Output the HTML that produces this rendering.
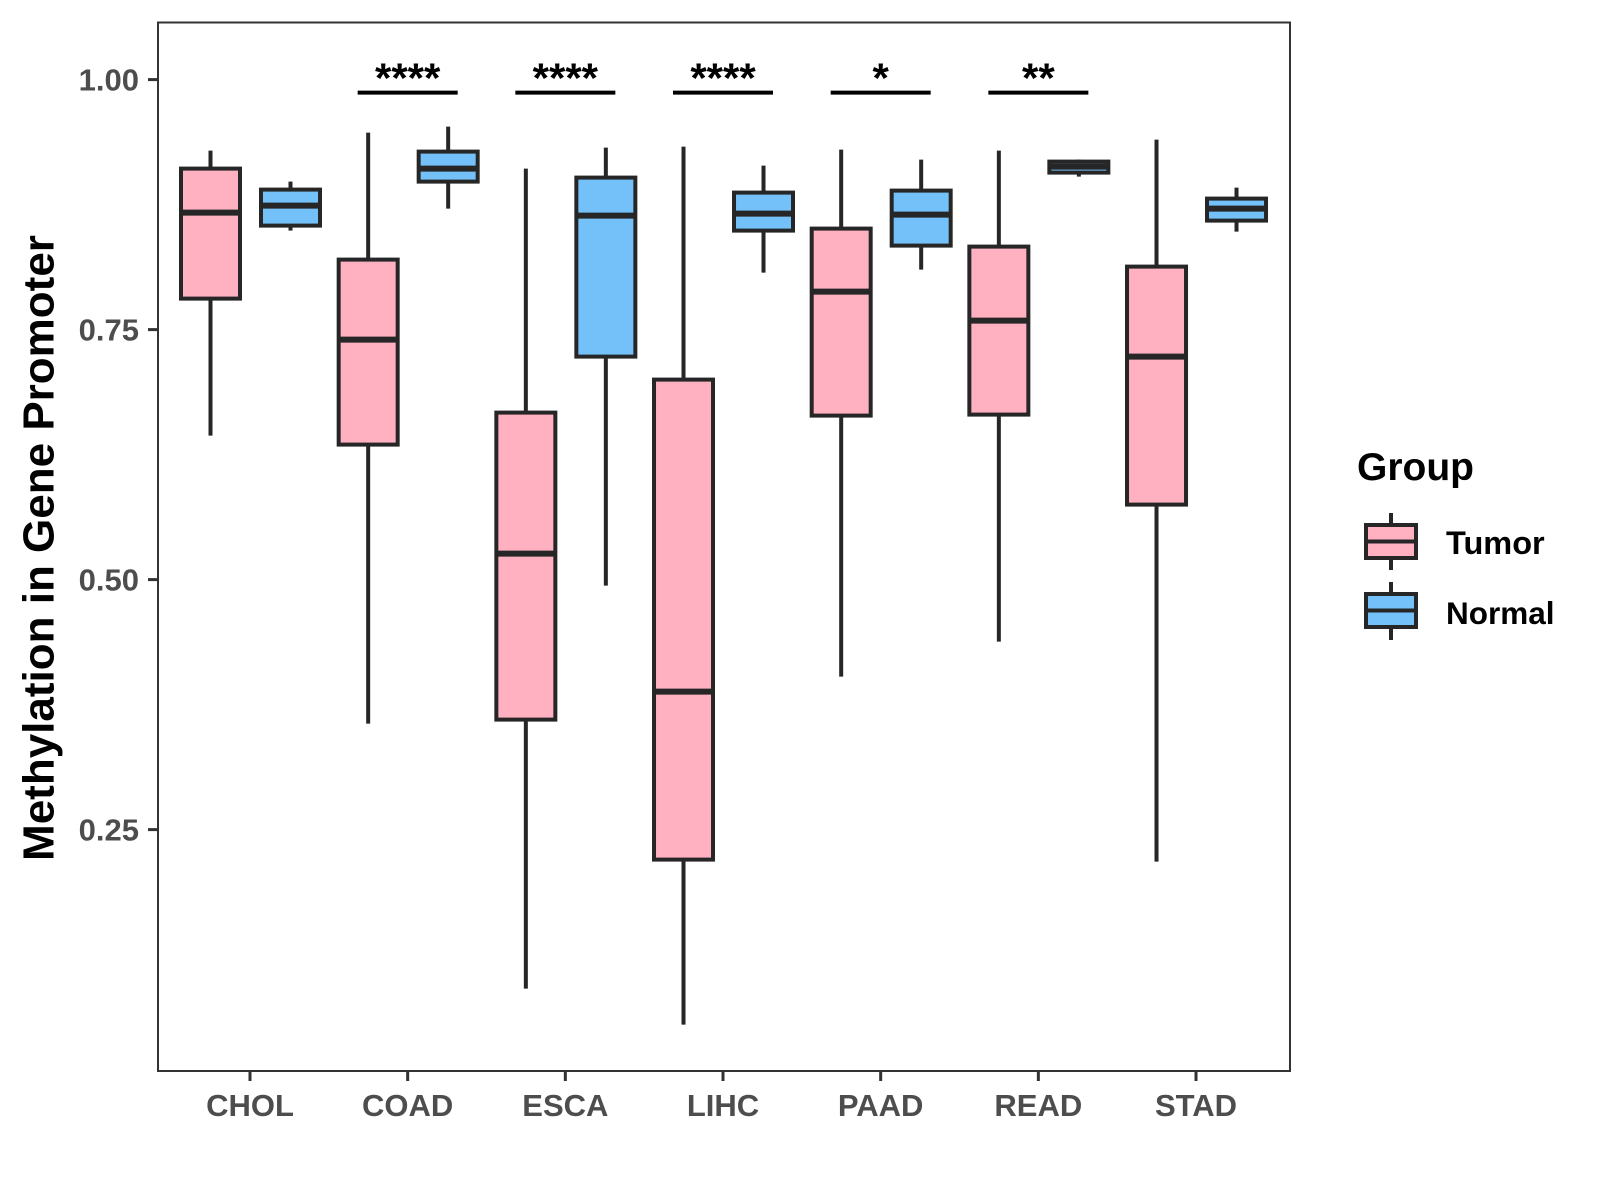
<!DOCTYPE html>
<html><head><meta charset="utf-8"><style>
html,body{margin:0;padding:0;background:#fff;}
svg{display:block;font-family:"Liberation Sans",Arial,sans-serif;}
</style></head><body>
<svg id="chart" width="1600" height="1200" viewBox="0 0 1600 1200">
<rect x="0" y="0" width="1600" height="1200" fill="#fff"/>
<g id="marks"></g>
<rect x="158" y="22.5" width="1132" height="1048.5" fill="none" stroke="#333" stroke-width="2"/>
<g id="axes"></g>
<text x="39" y="548" transform="rotate(-90 39 548)" text-anchor="middle" dominant-baseline="central" font-size="44" font-weight="bold" fill="#000">Methylation in Gene Promoter</text>
<g>
<text x="1357" y="480" font-size="39" font-weight="bold" fill="#000">Group</text>
<g>
<line x1="1391" y1="513" x2="1391" y2="570" stroke="#262626" stroke-width="4"/>
<rect x="1366" y="525" width="50" height="33" fill="#ffb0c1" stroke="#262626" stroke-width="4"/>
<line x1="1366" y1="541.5" x2="1416" y2="541.5" stroke="#262626" stroke-width="4"/>
<text x="1446" y="554" font-size="32.5" font-weight="bold" fill="#000">Tumor</text>
</g>
<g>
<line x1="1391" y1="582" x2="1391" y2="640" stroke="#262626" stroke-width="4"/>
<rect x="1366" y="594" width="50" height="33" fill="#74c1f9" stroke="#262626" stroke-width="4"/>
<line x1="1366" y1="610.5" x2="1416" y2="610.5" stroke="#262626" stroke-width="4"/>
<text x="1446" y="624" font-size="31.5" font-weight="bold" fill="#000">Normal</text>
</g>
</g>
</svg>
<script>
const categories = ["CHOL","COAD","ESCA","LIHC","PAAD","READ","STAD"];
// [whiskerLow, Q1, median, Q3, whiskerHigh]
const tumorStats = [
  [0.644,0.781,0.867,0.911,0.929],
  [0.356,0.635,0.740,0.820,0.947],
  [0.091,0.360,0.526,0.667,0.911],
  [0.055,0.220,0.388,0.700,0.933],
  [0.403,0.664,0.788,0.851,0.930],
  [0.438,0.665,0.759,0.833,0.929],
  [0.218,0.575,0.723,0.813,0.940]
];
const normalStats = [
  [0.849,0.854,0.874,0.890,0.898],
  [0.871,0.898,0.911,0.928,0.953],
  [0.494,0.723,0.864,0.902,0.932],
  [0.807,0.849,0.866,0.887,0.914],
  [0.810,0.834,0.865,0.889,0.920],
  [0.903,0.907,0.913,0.918,0.920],
  [0.848,0.859,0.871,0.881,0.892]
];
const significance = ["","****","****","****","*","**",""];
const yTicks = [0.25,0.50,0.75,1.00];
const yTickLabels = ["0.25","0.50","0.75","1.00"];
const sigLevel = 0.987;

const NS="http://www.w3.org/2000/svg";
function yScale(v){return 79.6+(1-v)*1000;}
function xScale(i){return 250+i*157.67;}
const marks=document.getElementById('marks');
const axes=document.getElementById('axes');
function mk(tag,attrs,parent){const e=document.createElementNS(NS,tag);for(const k in attrs)e.setAttribute(k,attrs[k]);parent.appendChild(e);return e;}
const LC="#262626", BW=59;
function drawBox(s,cx,fill,name){
  const g=mk('g',{},marks);
  
  
  const l=mk('line',{x1:cx,x2:cx,y1:yScale(s[4]),y2:yScale(s[0]),stroke:LC,'stroke-width':4},g);
  
  
  const r=mk('rect',{x:cx-BW/2,y:yScale(s[3]),width:BW,height:yScale(s[1])-yScale(s[3]),fill:fill,stroke:LC,'stroke-width':4},g);
  
  
  const m=mk('line',{x1:cx-BW/2,x2:cx+BW/2,y1:yScale(s[2]),y2:yScale(s[2]),stroke:LC,'stroke-width':6},g);
  
  
}
categories.forEach((c,i)=>{
  const cx=xScale(i);
  drawBox(tumorStats[i],cx-39.5,"#ffb0c1","box-tumor-"+c.toLowerCase());
  drawBox(normalStats[i],cx+40.5,"#74c1f9","box-normal-"+c.toLowerCase());
  if(significance[i]){
    const b=mk('line',{x1:cx-50,x2:cx+50,y1:yScale(sigLevel),y2:yScale(sigLevel),stroke:"#000",'stroke-width':4},marks);
    
    
    const t=mk('text',{x:cx,y:yScale(sigLevel),'text-anchor':'middle','font-size':42,'font-weight':'bold',fill:'#000'},marks);
    t.textContent=significance[i];
    
    
  }
  const tk=mk('line',{x1:cx,x2:cx,y1:1071,y2:1081,stroke:"#333",'stroke-width':3},axes);
  
  
  const lb=mk('text',{x:cx,y:1116,'text-anchor':'middle','font-size':31,'font-weight':'bold',fill:'#4d4d4d'},axes);
  lb.textContent=c;
  
  
});
yTicks.forEach((v,i)=>{
  const y=yScale(v);
  const tk=mk('line',{x1:148,x2:158,y1:y,y2:y,stroke:"#333",'stroke-width':3},axes);
  
  
  const lb=mk('text',{x:139,y:y+11,'text-anchor':'end','font-size':31,'font-weight':'bold',fill:'#4d4d4d'},axes);
  lb.textContent=yTickLabels[i];
  
  
});
</script>
</body></html>
